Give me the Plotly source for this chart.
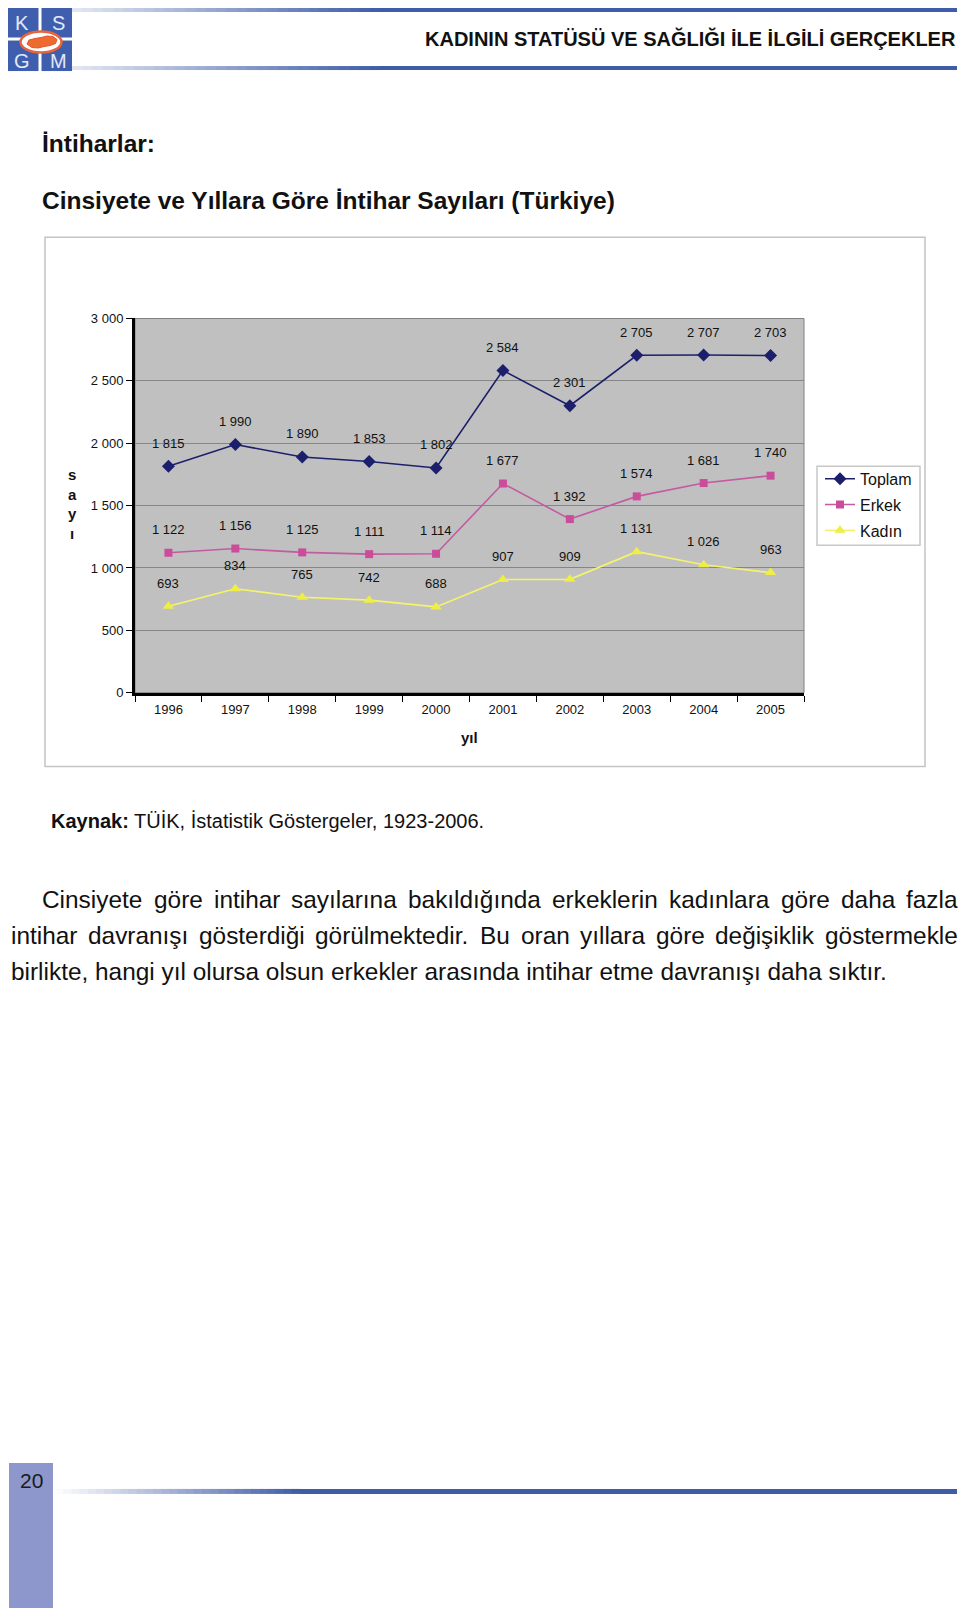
import plotly.graph_objects as go

# ---------------- data ----------------
years = ["1996", "1997", "1998", "1999", "2000", "2001", "2002", "2003", "2004", "2005"]
toplam = [1815, 1990, 1890, 1853, 1802, 2584, 2301, 2705, 2707, 2703]
erkek = [1122, 1156, 1125, 1111, 1114, 1677, 1392, 1574, 1681, 1740]
kadin = [693, 834, 765, 742, 688, 907, 909, 1131, 1026, 963]
series_names = ["Toplam", "Erkek", "Kadın"]
y_tick_vals = [0, 500, 1000, 1500, 2000, 2500, 3000]
y_tick_text = ["0", "500", "1 000", "1 500", "2 000", "2 500", "3 000"]

header_title = "KADININ STATÜSÜ VE SAĞLIĞI İLE İLGİLİ GERÇEKLER"
section_title = "İntiharlar:"
chart_title = "Cinsiyete ve Yıllara Göre İntihar Sayıları (Türkiye)"
source_text = "<b>Kaynak:</b> TÜİK, İstatistik Göstergeler, 1923-2006."
para_lines = [
    "Cinsiyete göre intihar sayılarına bakıldığında erkeklerin kadınlara göre daha fazla",
    "intihar davranışı gösterdiği görülmektedir. Bu oran yıllara göre değişiklik göstermekle",
    "birlikte, hangi yıl olursa olsun erkekler arasında intihar etme davranışı daha sıktır.",
]
page_number = "20"

# ---------------- helpers ----------------
W, H = 960, 1608
TOP = 8             # page margin above the drawing
VIS_H = H - 2 * TOP  # drawn height on the page
FONT = "Liberation Sans, Arial, sans-serif"


def px(x):
    return x / W


def py(y):
    # y: pixel position on the page
    return 1 - (y - TOP) / VIS_H


def fmt(v):
    return f"{v:,}".replace(",", " ")


shapes = []
annotations = []


def rect(x0, y0, x1, y1, fill=None, line_color=None, lw=0, layer="below"):
    d = dict(type="rect", xref="paper", yref="paper",
             x0=px(x0), x1=px(x1), y0=py(y1), y1=py(y0), layer=layer,
             line=dict(width=lw, color=line_color or "rgba(0,0,0,0)"))
    if fill:
        d["fillcolor"] = fill
    shapes.append(d)


def hex2rgb(h):
    h = h.lstrip("#")
    return tuple(int(h[i:i + 2], 16) for i in (0, 2, 4))


def gradient_bar(x0, x1, y0, y1, c0, c1, fade_end, n=30):
    r0, r1 = hex2rgb(c0), hex2rgb(c1)
    step = (fade_end - x0) / n
    for i in range(n):
        t = (i + 0.5) / n
        c = tuple(int(r0[k] + (r1[k] - r0[k]) * t) for k in range(3))
        rect(x0 + i * step, y0, x0 + (i + 1) * step + 0.6, y1, fill="rgb(%d,%d,%d)" % c)
    rect(fade_end, y0, x1, y1, fill=c1)


def text(x, y, s, size, color="#111111", xanchor="left", yanchor="middle", bold=False, family=FONT):
    annotations.append(dict(xref="paper", yref="paper", x=px(x), y=py(y), text=s,
                            showarrow=False, xanchor=xanchor, yanchor=yanchor,
                            font=dict(family=family, size=size, color=color,
                                      weight="bold" if bold else "normal")))


# Arial / Liberation Sans advance widths (per 1000 em)
WID = {' ': 278, ',': 278, '.': 278, 'a': 556, 'b': 556, 'c': 500, 'd': 556, 'e': 556, 'f': 278,
       'g': 556, 'h': 556, 'i': 222, 'j': 222, 'k': 500, 'l': 222, 'm': 833, 'n': 556, 'o': 556,
       'p': 556, 'q': 556, 'r': 333, 's': 500, 't': 278, 'u': 556, 'v': 500, 'w': 722, 'x': 500,
       'y': 500, 'z': 500, 'ı': 278, 'ş': 500, 'ğ': 556, 'ö': 556, 'ü': 556, 'ç': 500,
       'C': 722, 'B': 667}


def tw(s, fs):
    return sum(WID.get(ch, 556) for ch in s) * fs / 1000.0


def justified(line, x0, x1, y, fs):
    words = line.split(" ")
    total = sum(tw(w, fs) for w in words)
    gap = (x1 - x0 - total) / (len(words) - 1)
    x = x0
    for w in words:
        annotations.append(dict(xref="paper", yref="paper", x=px(x - 1), y=py(y), text=w,
                                showarrow=False, xanchor="left", yanchor="middle",
                                font=dict(family=FONT, size=fs, color="#111111")))
        x += tw(w, fs) + gap


# ---------------- header ----------------
BLUE = "#3e5ca8"
gradient_bar(72, 957, 9, 13, "#e4e8f3", BLUE, 380)
gradient_bar(72, 957, 67, 71, "#e4e8f3", BLUE, 380)
LOGO = "#3f5fae"
rect(8, 9, 38.5, 38.5, fill=LOGO)
rect(41.5, 9, 72, 38.5, fill=LOGO)
rect(8, 41.5, 38.5, 72, fill=LOGO)
rect(41.5, 41.5, 72, 72, fill=LOGO)
for s, (lx, ly) in zip(["K", "S", "G", "M"], [(22, 23.5), (58, 23.5), (22, 61.5), (58, 61.5)]):
    text(lx, ly, s, 20, color="#e3e9f7", xanchor="center")
shapes.append(dict(type="circle", xref="paper", yref="paper", layer="above",
                   x0=px(20.5), x1=px(61.5), y0=py(53.5), y1=py(32.5),
                   fillcolor="#ffffff", line=dict(color="#e8643c", width=2.5)))
tr_pts = [(27, 45), (29, 41), (35, 39.5), (41, 38.5), (47, 37), (53, 37.5), (57, 40.5),
          (55.5, 44.5), (50, 46.5), (44, 47.5), (38, 49), (32, 48.5)]
path = "M " + " L ".join("%.5f,%.5f" % (px(a), py(b)) for a, b in tr_pts) + " Z"
shapes.append(dict(type="path", xref="paper", yref="paper", layer="above", path=path,
                   fillcolor="#ef6a2e", line=dict(color="#e0552a", width=1)))
text(958, 39, header_title, 20, color="#111111", xanchor="right", bold=True)

# ---------------- titles ----------------
text(40, 144, section_title, 24.5, bold=True)
text(40, 201, chart_title, 24.5, bold=True)

# ---------------- chart frame ----------------
rect(45, 238, 925, 767, line_color="#c4c4c4", lw=1.5)
PL, PR, PT, PB = 135, 804, 319.3, 693.3
rect(PL, PT, PR, PB, line_color="#808080", lw=1)
# legend box
rect(817, 467, 920, 546, fill="#ffffff", line_color="#c8c8c8", lw=1.5)

# ---------------- traces ----------------
styles = [
    dict(line=dict(color="#1c1f6b", width=1.6), marker=dict(symbol="diamond", size=10, color="#1c1f6b")),
    dict(line=dict(color="#c45aa2", width=1.6), marker=dict(symbol="square", size=8, color="#cc4c9c")),
    dict(line=dict(color="#f4f46a", width=1.6), marker=dict(symbol="triangle-up", size=10, color="#eeee44")),
]
fig = go.Figure()
for name, vals, st in zip(series_names, [toplam, erkek, kadin], styles):
    fig.add_trace(go.Scatter(x=years, y=vals, name=name, legendgroup=name, mode="lines+markers",
                             line=st["line"], marker=st["marker"], cliponaxis=False))
    for i, v in enumerate(vals):
        annotations.append(dict(xref="x", yref="y", x=i, y=v, text=fmt(v), showarrow=False,
                                yshift=23, font=dict(family=FONT, size=13, color="#111111")))

# axis titles
text((PL + PR) / 2, 738, "yıl", 15, xanchor="center", bold=True)
text(72, 505, "s<br>a<br>y<br>ı", 15, xanchor="center", bold=True)

# ---------------- text below ----------------
text(49, 821.5, source_text, 20)
PFS = 24.4
justified(para_lines[0], 41, 957, 900, PFS)
justified(para_lines[1], 9.5, 957, 936, PFS)
text(8.5, 972, para_lines[2], PFS)

# ---------------- footer ----------------
rect(9, 1463, 53, 1620, fill="#8e97cc")
text(31, 1481, page_number, 21, xanchor="center", color="#1a1a1a")
gradient_bar(55, 957, 1489, 1494, "#ffffff", BLUE, 300)

fig.update_layout(
    width=W, height=H, margin=dict(l=0, r=0, t=0, b=0),
    paper_bgcolor="#ffffff", plot_bgcolor="#c0c0c0",
    font=dict(family=FONT, size=13, color="#111111"),
    shapes=shapes, annotations=annotations,
    showlegend=True,
    legend=dict(x=px(820), y=py(462.5), xanchor="left", yanchor="top",
                bgcolor="rgba(255,255,255,0)", borderwidth=0,
                font=dict(family=FONT, size=16, color="#111111"),
                tracegroupgap=2, itemwidth=30),
    xaxis=dict(domain=[px(PL), px(PR)], type="category", range=[-0.5, 9.5],
               showline=True, linecolor="#000000", linewidth=3,
               ticks="outside", tickson="boundaries", ticklen=6, tickcolor="#000000", tickwidth=1,
               ticklabelstandoff=3,
               showgrid=False, tickfont=dict(size=13), fixedrange=True),
    yaxis=dict(domain=[py(PB), py(PT)], range=[0, 3000],
               tickvals=y_tick_vals, ticktext=y_tick_text,
               showline=True, linecolor="#000000", linewidth=3,
               ticks="outside", ticklen=6, tickcolor="#000000", tickwidth=1,
               showgrid=True, gridcolor="#858585", gridwidth=1, zeroline=False,
               tickfont=dict(size=13), fixedrange=True),
)

fig.write_html("out.html")
